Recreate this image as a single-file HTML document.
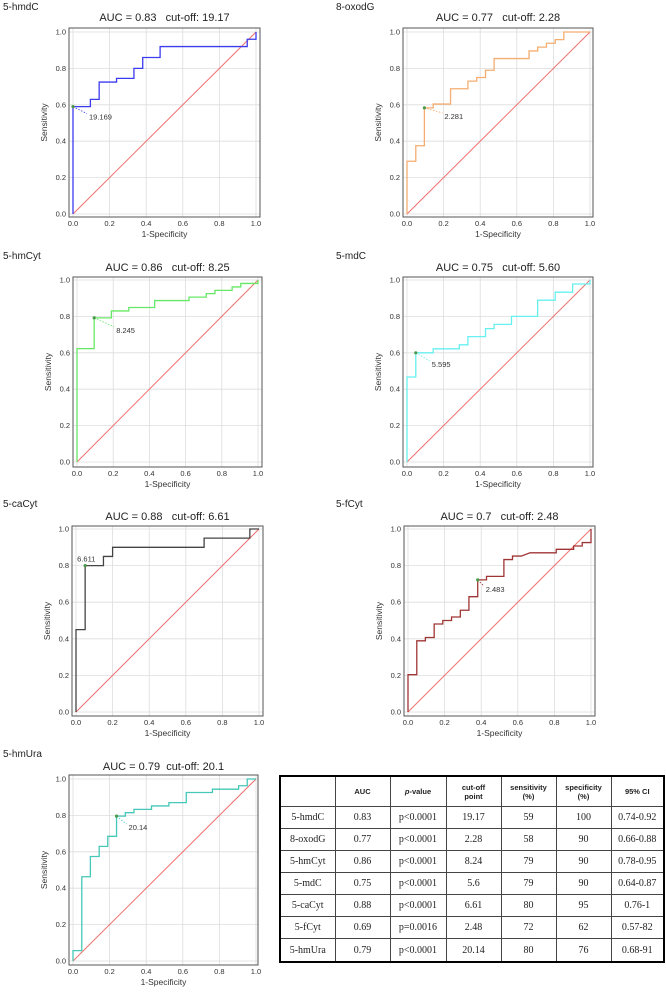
<!DOCTYPE html>
<html><head><meta charset="utf-8"><style>
body{margin:0;background:#fff;}
svg text{font-family:"Liberation Sans",Arial,sans-serif;white-space:pre;}
#tbl{position:absolute;left:279px;top:775px;width:384px;height:188px;border-collapse:collapse;border:2px solid #000;table-layout:fixed;}
#tbl td{border:1px solid #444;text-align:center;font-family:"Liberation Serif",serif;font-size:10px;color:#222;padding:0;}
#tbl tr.h td{font-family:"Liberation Sans",sans-serif;font-size:7.5px;font-weight:bold;height:29px;}
</style></head><body>
<svg id="c" width="666" height="992" style="position:absolute;left:0;top:0"></svg>
<table id="tbl">
<colgroup><col style="width:55px"><col style="width:55px"><col style="width:56px"><col style="width:55px"><col style="width:55px"><col style="width:55px"><col style="width:53px"></colgroup>
<tr class="h"><td></td><td>AUC</td><td><i>p</i>-value</td><td>cut-off<br>point</td><td>sensitivity<br>(%)</td><td>specificity<br>(%)</td><td>95% CI</td></tr>
<tr><td>5-hmdC</td><td>0.83</td><td>p&lt;0.0001</td><td>19.17</td><td>59</td><td>100</td><td>0.74-0.92</td></tr>
<tr><td>8-oxodG</td><td>0.77</td><td>p&lt;0.0001</td><td>2.28</td><td>58</td><td>90</td><td>0.66-0.88</td></tr>
<tr><td>5-hmCyt</td><td>0.86</td><td>p&lt;0.0001</td><td>8.24</td><td>79</td><td>90</td><td>0.78-0.95</td></tr>
<tr><td>5-mdC</td><td>0.75</td><td>p&lt;0.0001</td><td>5.6</td><td>79</td><td>90</td><td>0.64-0.87</td></tr>
<tr><td>5-caCyt</td><td>0.88</td><td>p&lt;0.0001</td><td>6.61</td><td>80</td><td>95</td><td>0.76-1</td></tr>
<tr><td>5-fCyt</td><td>0.69</td><td>p=0.0016</td><td>2.48</td><td>72</td><td>62</td><td>0.57-82</td></tr>
<tr><td>5-hmUra</td><td>0.79</td><td>p&lt;0.0001</td><td>20.14</td><td>80</td><td>76</td><td>0.68-91</td></tr>
</table>
<script>
const names=["5-hmdC","8-oxodG","5-hmCyt","5-mdC","5-caCyt","5-fCyt","5-hmUra"];
const titles=["AUC = 0.83   cut-off: 19.17","AUC = 0.77   cut-off: 2.28","AUC = 0.86   cut-off: 8.25","AUC = 0.75   cut-off: 5.60","AUC = 0.88   cut-off: 6.61","AUC = 0.7   cut-off: 2.48","AUC = 0.79  cut-off: 20.1"];
const cutLabels=["19.169","2.281","8.245","5.595","6.611","2.483","20.14"];
const cutFpr=[0,0.095,0.095,0.048,0.05,0.381,0.238];
const cutTpr=[0.59,0.583,0.792,0.6,0.8,0.722,0.796];
const fpr0=[0,0,0.095,0.095,0.143,0.143,0.238,0.238,0.333,0.333,0.381,0.381,0.476,0.476,0.952,0.952,1,1];
const tpr0=[0,0.59,0.59,0.63,0.63,0.725,0.725,0.745,0.745,0.80,0.80,0.86,0.86,0.92,0.92,0.96,0.96,1];
const fpr1=[0,0,0.048,0.048,0.095,0.095,0.143,0.143,0.238,0.238,0.333,0.333,0.381,0.381,0.429,0.429,0.476,0.476,0.667,0.667,0.714,0.714,0.762,0.762,0.81,0.81,0.857,0.857,1];
const tpr1=[0,0.29,0.29,0.375,0.375,0.583,0.583,0.604,0.604,0.688,0.688,0.73,0.73,0.75,0.75,0.79,0.79,0.854,0.854,0.896,0.896,0.917,0.917,0.938,0.938,0.958,0.958,1,1];
const fpr2=[0,0,0.095,0.095,0.19,0.19,0.286,0.286,0.429,0.429,0.619,0.619,0.714,0.714,0.762,0.762,0.857,0.857,0.905,0.905,1,1];
const tpr2=[0,0.623,0.623,0.792,0.792,0.83,0.83,0.849,0.849,0.887,0.887,0.906,0.906,0.925,0.925,0.943,0.943,0.962,0.962,0.981,0.981,1];
const fpr3=[0,0,0.048,0.048,0.143,0.143,0.286,0.286,0.333,0.333,0.429,0.429,0.476,0.476,0.571,0.571,0.714,0.714,0.81,0.81,0.905,0.905,1,1];
const tpr3=[0,0.467,0.467,0.6,0.6,0.622,0.622,0.644,0.644,0.689,0.689,0.733,0.733,0.756,0.756,0.8,0.8,0.889,0.889,0.933,0.933,0.978,0.978,1];
const fpr4=[0,0,0.05,0.05,0.15,0.15,0.2,0.2,0.7,0.7,0.95,0.95,1];
const tpr4=[0,0.45,0.45,0.8,0.8,0.85,0.85,0.9,0.9,0.95,0.95,1,1];
const fpr5=[0,0,0.048,0.048,0.095,0.095,0.143,0.143,0.19,0.19,0.238,0.238,0.286,0.286,0.333,0.333,0.381,0.381,0.429,0.429,0.524,0.524,0.571,0.571,0.619,0.667,0.81,0.81,0.905,0.905,0.952,0.952,1,1];
const tpr5=[0,0.204,0.204,0.389,0.389,0.407,0.407,0.481,0.481,0.5,0.5,0.519,0.519,0.556,0.556,0.63,0.63,0.722,0.722,0.741,0.741,0.833,0.833,0.852,0.852,0.87,0.87,0.889,0.889,0.907,0.907,0.926,0.926,1];
const fpr6=[0,0,0.048,0.048,0.095,0.095,0.143,0.143,0.19,0.19,0.238,0.238,0.286,0.286,0.333,0.333,0.429,0.429,0.524,0.524,0.619,0.619,0.762,0.762,0.905,0.905,0.952,0.952,1];
const tpr6=[0,0.057,0.057,0.463,0.463,0.574,0.574,0.63,0.63,0.685,0.685,0.796,0.796,0.815,0.815,0.833,0.833,0.852,0.852,0.87,0.87,0.926,0.926,0.944,0.944,0.963,0.963,1,1];
const ticks=[0,0.2,0.4,0.6,0.8,1.0];
const tickLabels=["0.0","0.2","0.4","0.6","0.8","1.0"];
const FPR=[fpr0,fpr1,fpr2,fpr3,fpr4,fpr5,fpr6], TPR=[tpr0,tpr1,tpr2,tpr3,tpr4,tpr5,tpr6];
const colors=["#3b3bf0","#f5ad70","#66e866","#66f0f0","#444","#a03535","#45c8b8"];
const L=[
 {x0:73,x1:256,y0:214,y1:32,fl:69,fr:260,ft:28,fb:217,nameY:10,titleY:21},
 {x0:407,x1:590,y0:214,y1:32,fl:403,fr:593,ft:28,fb:217,nameY:10,titleY:21,nx:336},
 {x0:77,x1:258,y0:462,y1:280,fl:73,fr:262,ft:277,fb:467,nameY:259,titleY:271},
 {x0:407,x1:590,y0:462,y1:280,fl:403,fr:593,ft:277,fb:467,nameY:259,titleY:271,nx:336},
 {x0:76,x1:259,y0:712,y1:529,fl:72,fr:263,ft:526,fb:716,nameY:507,titleY:520},
 {x0:408,x1:591,y0:712,y1:529,fl:404,fr:595,ft:526,fb:716,nameY:507,titleY:520,nx:336},
 {x0:73,x1:256,y0:961,y1:779,fl:69,fr:258,ft:775,fb:965,nameY:757,titleY:770}
];
const cutOff=[[16,12],[20,10],[22,14],[16,13],[-8,-4],[8,11],[12,13]];
const svg=document.getElementById('c');const NS="http://www.w3.org/2000/svg";
function mk(t,a,p){const e=document.createElementNS(NS,t);for(const k in a)e.setAttribute(k,a[k]);(p||svg).appendChild(e);return e;}
L.forEach((g,i)=>{
 const sx=v=>g.x0+v*(g.x1-g.x0), sy=v=>g.y0-v*(g.y0-g.y1);
 const grp=mk('g',{});
 
 
 const nm=mk('text',{x:g.nx||3,y:g.nameY,'font-size':10,fill:'#222'},grp);nm.textContent=names[i];
 
 const tt=mk('text',{x:(g.fl+g.fr)/2,y:g.titleY,'font-size':11,fill:'#222','text-anchor':'middle'},grp);tt.textContent=titles[i];
 
 ticks.forEach((t,k)=>{
  mk('line',{x1:sx(t),x2:sx(t),y1:g.ft,y2:g.fb,stroke:'#ddd','stroke-width':0.8},grp);
  mk('line',{x1:g.fl,x2:g.fr,y1:sy(t),y2:sy(t),stroke:'#ddd','stroke-width':0.8},grp);
  const xl=mk('text',{x:sx(t),y:g.fb+9,'font-size':7.5,fill:'#333','text-anchor':'middle'},grp);xl.textContent=tickLabels[k];
  
  const yl=mk('text',{x:g.fl-3,y:sy(t)+2.5,'font-size':7.5,fill:'#333','text-anchor':'end'},grp);yl.textContent=tickLabels[k];
  
 });
 const fr=mk('rect',{x:g.fl,y:g.ft,width:g.fr-g.fl,height:g.fb-g.ft,fill:'none',stroke:'#555','stroke-width':1},grp);
 
 const xa=mk('text',{x:(g.fl+g.fr)/2,y:g.fb+20,'font-size':8.5,fill:'#333','text-anchor':'middle'},grp);xa.textContent='1-Specificity';
 
 const ym=(g.ft+g.fb)/2, yx=g.fl-22;
 const ya=mk('text',{x:yx,y:ym,'font-size':8.5,fill:'#333','text-anchor':'middle',transform:`rotate(-90 ${yx} ${ym})`},grp);ya.textContent='Sensitivity';
 
 const d=mk('line',{x1:sx(0),y1:sy(0),x2:sx(1),y2:sy(1),stroke:'#f07070','stroke-width':1},grp);
 
 const pts=FPR[i].map((f,k)=>sx(f)+','+sy(TPR[i][k])).join(' ');
 const pl=mk('polyline',{points:pts,fill:'none',stroke:colors[i],'stroke-width':1.3},grp);
 
 const cx=sx(cutFpr[i]),cy=sy(cutTpr[i]),o=cutOff[i];
 if(o[0]>0) mk('line',{x1:cx,y1:cy,x2:cx+o[0]-2,y2:cy+o[1]-5,stroke:colors[i],'stroke-width':0.8,'stroke-dasharray':'1.5,1.5'},grp);
 const cp=mk('circle',{cx:cx,cy:cy,r:1.6,fill:'#4a9a4a'},grp);
 
 const cl=mk('text',{x:cx+o[0],y:cy+o[1]+(o[0]>0?1:0),'font-size':7.5,fill:'#333'},grp);cl.textContent=cutLabels[i];
 
});
</script>
</body></html>
